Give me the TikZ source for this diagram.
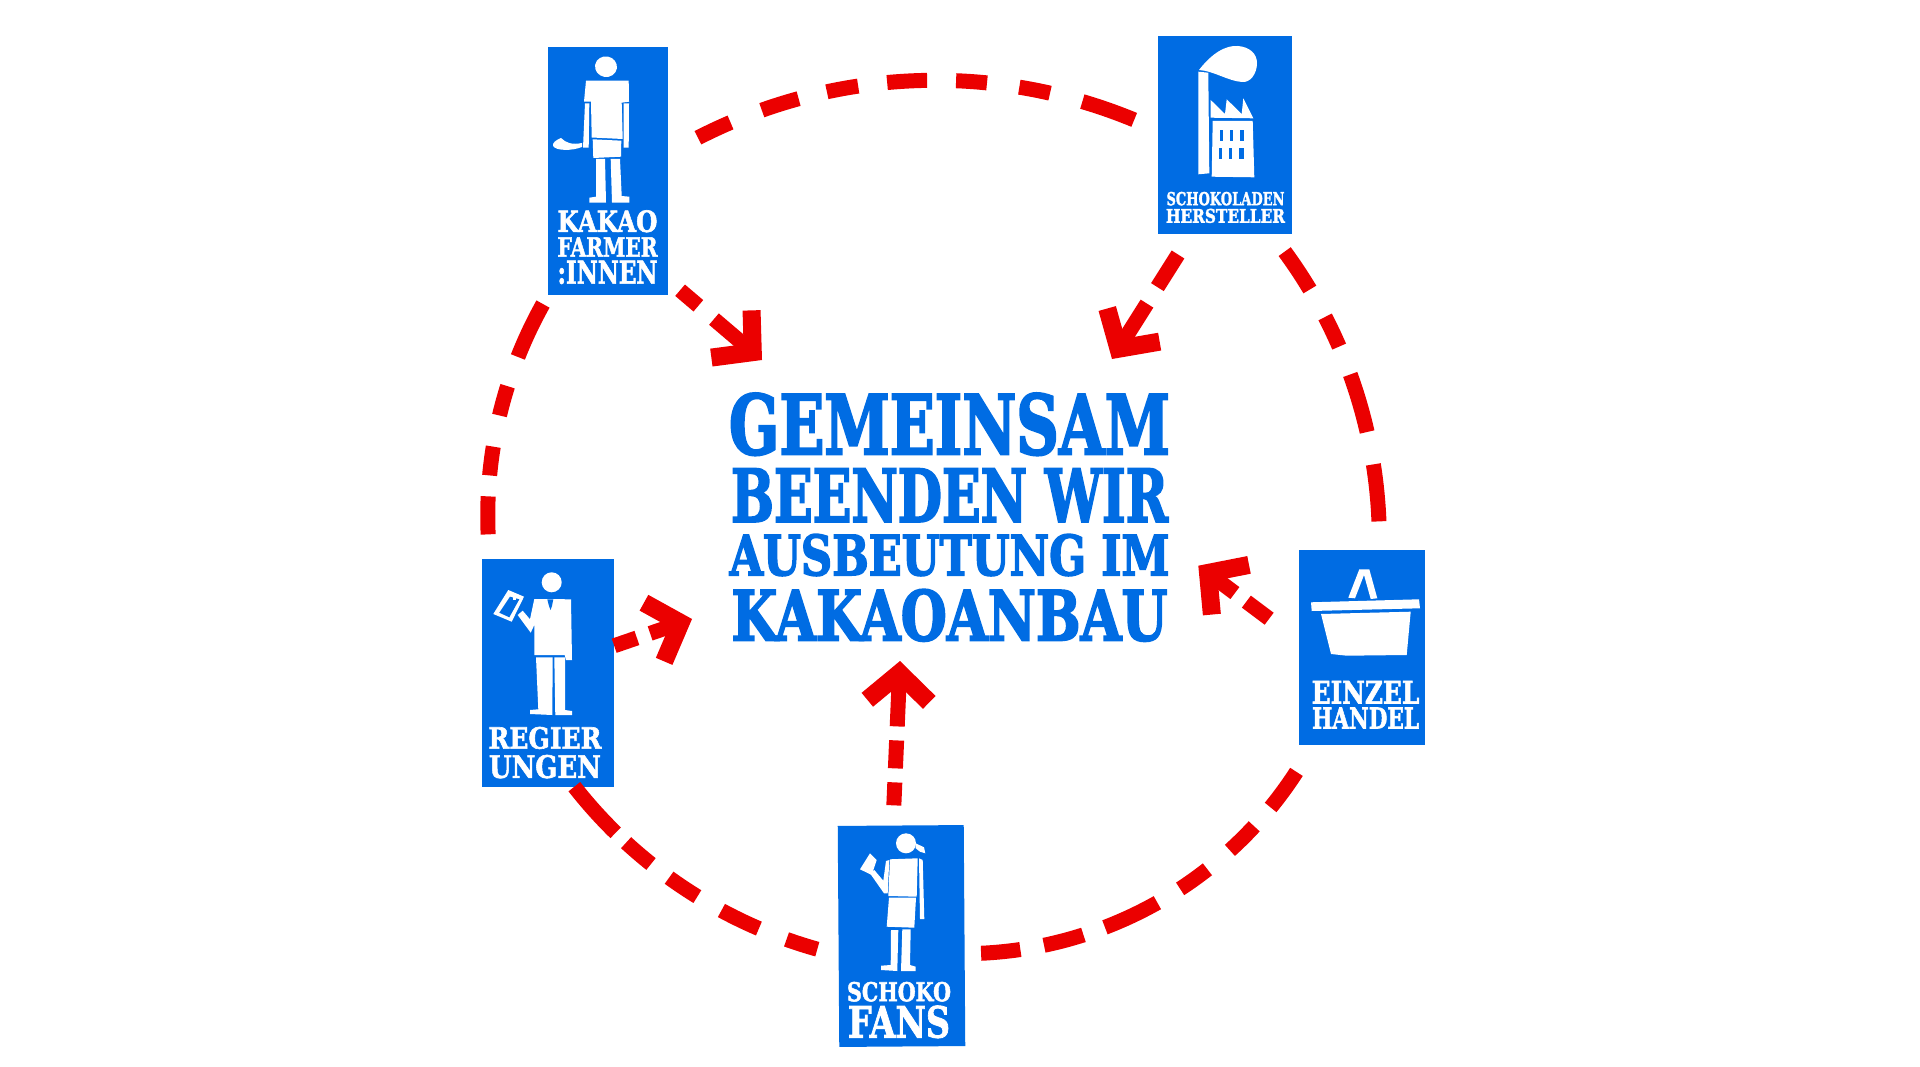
\documentclass[tikz,border=0pt]{standalone}
\usepackage{graphicx}
\usepackage{fontspec}
\usetikzlibrary{arrows.meta, shapes.geometric, positioning}
\newfontfamily\posterfont[FakeBold=2]{DejaVu Serif Bold}
\newfontfamily\headfont[FakeBold=3]{DejaVu Serif Bold}
\definecolor{cardblue}{HTML}{006CE3}
\definecolor{ringred}{HTML}{EB0000}
\newcommand{\fitline}[3]{\resizebox{#1pt}{#2pt}{#3}}

\begin{document}
\begin{tikzpicture}[x=1pt,y=-1pt]
   \useasboundingbox (0,0) rectangle (1920,1067);
   \tikzset{CardStyle/.style = {shape = rectangle,fill = cardblue,inner sep = 0pt}}
   \tikzset{SlantStyle/.style = {CardStyle,shape = trapezium,trapezium stretches body = true}}
   \tikzset{LabelStyle/.style = {inner sep = 0pt,text = white,align = center,font = \posterfont\offinterlineskip}}
   \tikzset{TitleStyle/.style = {inner sep = 0pt,text = cardblue,font = \headfont}}
   \tikzset{RingStyle/.style = {draw = ringred,line width = 15pt}}
   \tikzset{ArrowStyle/.style = {RingStyle,-{Straight Barb[length = 28pt,width = 62pt,line width = 18pt]}}}

   \node[CardStyle,minimum width = 120pt,minimum height = 248pt] (kakao) at (608,171.5) {};
   \node[CardStyle,minimum width = 134pt,minimum height = 198pt] (hersteller) at (1225,135) {};
   \node[SlantStyle,trapezium left angle = 90,trapezium right angle = 92,minimum width = 132pt,minimum height = 228pt] (regier) at (548,672.5) {};
   \node[SlantStyle,trapezium left angle = 90,trapezium right angle = 92,minimum width = 126pt,minimum height = 221pt,rotate = 0.4] (fans) at (901.5,936) {};
   \node[SlantStyle,trapezium left angle = 92,trapezium right angle = 90,minimum width = 126pt,minimum height = 195pt] (einzel) at (1362,647.5) {};

   \node[LabelStyle,anchor = north] (kakaotext) at (607.5,210) {\fitline{100}{21.7}{KAKAO}\\[5pt]\fitline{100}{19.3}{FARMER}\\[4pt]\fitline{100}{23}{:INNEN}};
   \node[LabelStyle,anchor = north] (herstellertext) at (1225.5,191.7) {\fitline{118}{13.3}{SCHOKOLADEN}\\[3.3pt]\fitline{119}{14}{HERSTELLER}};
   \node[LabelStyle,anchor = north] (regiertext) at (545,726.7) {\fitline{113}{21.7}{REGIER}\\[5.9pt]\fitline{112}{23}{UNGEN}};
   \node[LabelStyle,anchor = north] (fanstext) at (899,981.7) {\fitline{104}{19.3}{SCHOKO}\\[4pt]\fitline{102}{32}{FANS}};
   \node[LabelStyle,anchor = north] (einzeltext) at (1365.5,680.7) {\fitline{107.6}{22.6}{EINZEL}\\[4pt]\fitline{107}{21}{HANDEL}};

   \node[TitleStyle,anchor = north] (gemeinsam) at (949.5,393) {\fitline{441}{61}{GEMEINSAM}};
   \node[TitleStyle,below = 13pt of gemeinsam] (beenden) {\fitline{437}{53}{BEENDEN WIR}};
   \node[TitleStyle,below = 12pt of beenden] (ausbeutung) {\fitline{440}{41}{AUSBEUTUNG IM}};
   \node[TitleStyle,below = 13pt of ausbeutung] (kakaoanbau) {\fitline{436}{51}{KAKAOANBAU}};

   \coordinate (kakaotip) at (762,360);
   \coordinate (herstellertip) at (1112,359);
   \coordinate (regiertip) at (692,619);
   \coordinate (fanstip) at (900,661);
   \coordinate (einzeltip) at (1198.3,565.7);

   \draw[RingStyle,dash pattern = on 0pt off 34pt on 36pt off 33.6pt on 38.6pt off 29.1pt on 31.8pt off 29.2pt on 40pt off 29pt on 31pt off 32.6pt on 31.3pt off 33.4pt on 55pt off 99pt]
      (kakao.16) to[bend left = 28,looseness = 0.91] (hersteller.176);
   \draw[RingStyle,dash pattern = on 0pt off 22pt on 45.5pt off 31.4pt on 32.8pt off 30pt on 60pt off 33pt on 57.3pt off 99pt]
      (hersteller.-65) to[bend left = 20,looseness = 0.88] (einzel.80);
   \draw[RingStyle,dash pattern = on 0pt off 31pt on 44pt off 25pt on 34.2pt off 29.4pt on 33.6pt off 26.6pt on 58pt off 22.8pt on 40.8pt off 24pt on 39.5pt off 99pt]
      (einzel.-117) to[bend left = 30.7,looseness = 0.916] (fans.-16);
   \draw[RingStyle,dash pattern = on 0pt off 21.8pt on 32.3pt off 29.7pt on 41.6pt off 27.8pt on 34pt off 22.7pt on 32.8pt off 14.4pt on 99pt]
      (fans.196) to[bend left = 19.5,looseness = 0.874] (regier.-77);
   \draw[RingStyle,dash pattern = on 0pt off 24pt on 38pt off 21pt on 29pt off 31.8pt on 30.4pt off 31pt on 58.6pt off 99pt]
      (regier.117.5) to[bend left = 18,looseness = 0.877] (kakao.south west);

   \draw[ArrowStyle,dash pattern = on 0pt off 15.6pt on 24pt off 20.5pt on 199pt] (kakao.-61) -- (kakaotip);
   \draw[ArrowStyle,dash pattern = on 0pt off 24pt on 38.6pt off 19.5pt on 199pt] (hersteller.-109.5) -- (herstellertip);
   \draw[ArrowStyle,dash pattern = on 24pt off 14pt on 199pt] (regier.22) -- (regiertip);
   \draw[ArrowStyle,dash pattern = on 0pt off 20pt on 23pt off 14pt on 28pt off 14pt on 199pt] (fans.94) -- (fanstip);
   \draw[ArrowStyle,dash pattern = on 0pt off 37pt on 28.5pt off 14.3pt on 199pt] (einzel.174.4) -- (einzeltip);

%  figure of the farmer
   \fill[white,rotate around = {-10:(606,66.7)}] (606,66.7) ellipse [x radius = 11,y radius = 10.3];
   \fill[white] (586,80.7) -- (628.7,80.7) -- (629,101.7) -- (621.7,102.7) -- (622.7,139) -- (591.7,137.5) -- (591,101.7) -- (584,101.7) -- cycle;
   \fill[white] (585,103.3) -- (589.3,103.3) -- (588.7,147.7) -- (583,147.7) -- cycle;
   \fill[white] (623.7,103.3) -- (629,103.3) -- (628.7,147.7) -- (623.7,147.7) -- cycle;
   \fill[white] (592.7,139.3) -- (621.3,140.7) -- (621,156.7) -- (593.3,158) -- cycle;
   \fill[white] (596,159) -- (605,159) -- (606,202.7) -- (589.3,202.7) -- (589.3,197.7) -- (596,196.7) -- cycle;
   \fill[white] (610.7,159) -- (620,159) -- (621.7,196) -- (629.3,196.7) -- (629.3,202.7) -- (612,202.7) -- cycle;
   \fill[white] (582,143) .. controls (572,145) and (566,143) .. (561,138) .. controls (556,140) and (552,143) .. (553,146) .. controls (556,151) and (572,151) .. (582,147) -- cycle;

%  factory
   \fill[white] (1198.3,71.7) -- (1208.3,72.7) -- (1209.3,173.3) -- (1198.3,174.3) -- cycle;
   \fill[white] (1199,70) .. controls (1212,53) and (1226,45) .. (1238,46) .. controls (1250,47) and (1257,54) .. (1257,63) .. controls (1257,74) and (1250,83) .. (1242,82) .. controls (1228,81) and (1214,71) .. (1199,70) -- cycle;
   \fill[white] (1210.7,117.7) -- (1210.7,100) -- (1225,114) -- (1226.7,99.3) -- (1241.7,114) -- (1243.3,98.3) -- (1253.3,118.3) -- cycle;
   \fill[white] (1212.7,121) -- (1252.7,121) -- (1254.3,177.3) -- (1211.7,176.7) -- cycle;
   \foreach \winx/\winw in {1220.3/2.7,1230/2.7,1240.3/3.4}
      \fill[cardblue] (\winx,130) rectangle ++(\winw,11);
   \foreach \winx/\winw in {1219/3,1229.3/2.7,1239.3/4.7}
      \fill[cardblue] (\winx,147.7) rectangle ++(\winw,11.3);

%  man with clipboard
   \fill[white] (551.7,582.3) circle (10);
   \fill[white] (534.3,599) -- (571,599.3) -- (572,660) -- (566,660) -- (564.7,655) -- (534.3,655) -- (534.3,625) -- (530.7,632.7) -- (517.7,615) -- (522.7,610.7) -- (530,619.3) -- cycle;
   \fill[cardblue] (547.3,599.3) -- (553.3,599.3) -- (552,606) -- (550.5,610) -- (549,606) -- cycle;
   \fill[white] (536,657.3) -- (552.7,657.3) -- (552.3,715) -- (530,714) -- (530,710) -- (538.3,709.3) -- cycle;
   \fill[white] (554.3,657.3) -- (565,657.3) -- (565,710) -- (572,711) -- (572,715) -- (555.3,715) -- cycle;
   \fill[white] (508.3,590) -- (524,596.7) -- (511.7,621.7) -- (493.3,614) -- cycle;
   \fill[cardblue] (510,596.7) -- (519.3,599.3) -- (509.3,617.3) -- (499.3,612.7) -- cycle;
   \fill[white] (513,595) rectangle (516,600);

%  woman with bar
   \fill[white] (906,843.3) circle (10);
   \fill[white] (915.7,843.3) -- (924,847.3) -- (925.3,853.3) -- (920,851.7) -- (915.7,848.3) -- cycle;
   \fill[white] (890,859.3) -- (917.7,858.3) -- (916.7,896.7) -- (888.3,896) -- cycle;
   \fill[white] (889,897.7) -- (916,897.7) -- (914.3,927.7) -- (886.7,926.7) -- cycle;
   \fill[white] (919,858.3) -- (922.7,860) -- (924.3,919) -- (920,919) -- cycle;
   \fill[white] (889.3,860) -- (887.7,893.3) -- (884,893.3) -- (870,873.3) -- (874.3,870) -- (883.3,880.7) -- (886,861) -- cycle;
   \fill[white] (870,853.3) -- (876.7,860) -- (871.7,875) -- (860,869.3) -- cycle;
   \fill[white] (891,930) -- (898.3,930) -- (897.3,971) -- (881,970) -- (881,965.7) -- (890.7,965) -- cycle;
   \fill[white] (902.3,929.3) -- (910.7,929.3) -- (910,965) -- (915.7,966.7) -- (915.7,971) -- (901,971) -- cycle;

%  basket
   \fill[white] (1348.3,597.7) -- (1359.3,569.3) -- (1369.3,569.3) -- (1377.3,598.3) -- (1370.7,599) -- (1364,575) -- (1355,598.3) -- cycle;
   \fill[white] (1311,602.3) -- (1419,599.3) -- (1420,608.3) -- (1311.7,611) -- cycle;
   \fill[white] (1321,614) -- (1410.7,611.7) -- (1406.7,655) -- (1346.7,655.7) -- (1331,654) -- cycle;

\end{tikzpicture}
\end{document}
